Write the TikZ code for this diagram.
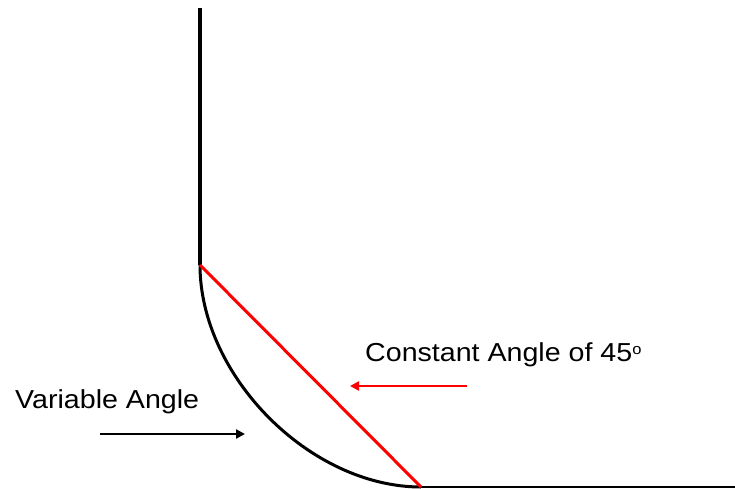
\documentclass[tikz,border=0pt]{standalone}
\usepackage{fontspec}
\setmainfont{Liberation Sans}
\usetikzlibrary{arrows.meta}
\begin{document}
\begin{tikzpicture}[x=1pt,y=-1pt,
  wall/.style={line width=3.2pt,black},
  curve/.style={line width=3pt,black},
  chord/.style={line width=3pt,red},
  floor/.style={line width=2pt,black},
  pointer/.style={line width=2.6pt,-{Triangle[length=9pt,width=9pt]}},
  label/.style={anchor=base west,inner sep=0pt,font=\fontsize{26}{30}\selectfont,xscale=1.1}]
  \useasboundingbox[fill=white] (0,0) rectangle (735,489);
  \coordinate (top) at (200,8);
  \coordinate (corner) at (200,265);
  \coordinate (foot) at (421,487);
  \coordinate (right) at (735,487);
  \coordinate (ra) at (467,386);
  \coordinate (rb) at (350,386);
  \coordinate (ba) at (100,434);
  \coordinate (bb) at (245,434);
  \draw[wall] (top) -- (corner);
  \draw[curve] (corner) .. controls (200,376) and (310,487) .. (foot);
  \draw[floor] (foot) -- (right);
  \draw[chord] (corner) -- (foot);
  \draw[pointer,red] (ra) -- (rb);
  \draw[pointer,black] (ba) -- (bb);
  \node[label] (const) at (365,361) {Constant Angle of 45\raisebox{0.5ex}{\fontsize{15}{18}\selectfont o}};
  \node[label] (var) at (15,408) {Variable Angle};
\end{tikzpicture}
\end{document}
